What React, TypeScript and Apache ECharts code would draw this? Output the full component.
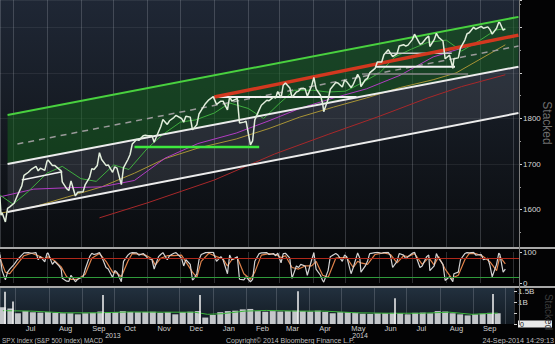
import React, { useEffect, useRef } from 'react';
import * as echarts from 'echarts';

const FONT = '"Liberation Sans", Arial, sans-serif';

// ---------- price (SPX close) ----------
const priceData: [string, number][] = [
  ['2013-06-19', 1628], ['2013-06-20', 1588], ['2013-06-21', 1593], ['2013-06-24', 1573], ['2013-06-26', 1603], ['2013-06-28', 1606],
  ['2013-07-02', 1614], ['2013-07-05', 1631], ['2013-07-09', 1652], ['2013-07-11', 1675], ['2013-07-15', 1682], ['2013-07-18', 1689],
  ['2013-07-22', 1695], ['2013-07-24', 1685], ['2013-07-26', 1691], ['2013-07-30', 1686], ['2013-08-01', 1706], ['2013-08-02', 1709],
  ['2013-08-06', 1697], ['2013-08-08', 1697], ['2013-08-12', 1689], ['2013-08-14', 1685], ['2013-08-15', 1661], ['2013-08-19', 1646],
  ['2013-08-21', 1642], ['2013-08-23', 1663], ['2013-08-27', 1630], ['2013-08-29', 1638], ['2013-09-03', 1639], ['2013-09-05', 1655],
  ['2013-09-09', 1671], ['2013-09-11', 1690], ['2013-09-13', 1688], ['2013-09-16', 1697], ['2013-09-18', 1725], ['2013-09-20', 1710],
  ['2013-09-24', 1697], ['2013-09-26', 1698], ['2013-09-30', 1682], ['2013-10-02', 1694], ['2013-10-04', 1691], ['2013-10-08', 1655],
  ['2013-10-10', 1692], ['2013-10-14', 1710], ['2013-10-16', 1721], ['2013-10-18', 1744], ['2013-10-22', 1754], ['2013-10-24', 1752],
  ['2013-10-28', 1762], ['2013-10-30', 1763], ['2013-11-01', 1762], ['2013-11-05', 1762], ['2013-11-07', 1748], ['2013-11-11', 1771],
  ['2013-11-13', 1782], ['2013-11-15', 1798], ['2013-11-19', 1787], ['2013-11-21', 1795], ['2013-11-25', 1802], ['2013-11-27', 1807],
  ['2013-12-02', 1800], ['2013-12-04', 1792], ['2013-12-06', 1805], ['2013-12-10', 1803], ['2013-12-12', 1775], ['2013-12-16', 1786],
  ['2013-12-18', 1810], ['2013-12-20', 1818], ['2013-12-24', 1833], ['2013-12-27', 1841], ['2013-12-31', 1848],
  ['2014-01-03', 1831], ['2014-01-07', 1838], ['2014-01-09', 1838], ['2014-01-13', 1819], ['2014-01-15', 1848], ['2014-01-17', 1838],
  ['2014-01-22', 1844], ['2014-01-24', 1790], ['2014-01-28', 1792], ['2014-01-30', 1794], ['2014-02-03', 1742], ['2014-02-05', 1751],
  ['2014-02-07', 1797], ['2014-02-11', 1819], ['2014-02-13', 1829], ['2014-02-18', 1840], ['2014-02-20', 1839], ['2014-02-24', 1847],
  ['2014-02-26', 1845], ['2014-02-28', 1859], ['2014-03-03', 1845], ['2014-03-05', 1873], ['2014-03-07', 1878], ['2014-03-11', 1867],
  ['2014-03-13', 1846], ['2014-03-17', 1858], ['2014-03-19', 1860], ['2014-03-21', 1866], ['2014-03-25', 1865], ['2014-03-27', 1849],
  ['2014-03-31', 1872], ['2014-04-02', 1890], ['2014-04-04', 1865], ['2014-04-08', 1851], ['2014-04-10', 1833], ['2014-04-11', 1815],
  ['2014-04-15', 1842], ['2014-04-17', 1864], ['2014-04-22', 1879], ['2014-04-24', 1878], ['2014-04-28', 1869], ['2014-04-30', 1884],
  ['2014-05-02', 1881], ['2014-05-06', 1868], ['2014-05-08', 1875], ['2014-05-12', 1897], ['2014-05-14', 1888], ['2014-05-15', 1870],
  ['2014-05-19', 1885], ['2014-05-21', 1888], ['2014-05-23', 1900], ['2014-05-28', 1910], ['2014-05-30', 1924], ['2014-06-03', 1924],
  ['2014-06-05', 1940], ['2014-06-09', 1951], ['2014-06-11', 1943], ['2014-06-13', 1936], ['2014-06-17', 1942], ['2014-06-19', 1959],
  ['2014-06-23', 1962], ['2014-06-25', 1959], ['2014-06-27', 1961], ['2014-07-01', 1973], ['2014-07-03', 1985], ['2014-07-08', 1963],
  ['2014-07-10', 1965], ['2014-07-14', 1977], ['2014-07-16', 1981], ['2014-07-17', 1958], ['2014-07-21', 1973], ['2014-07-23', 1987],
  ['2014-07-25', 1978], ['2014-07-29', 1970], ['2014-07-31', 1931], ['2014-08-04', 1939], ['2014-08-06', 1920], ['2014-08-07', 1910],
  ['2014-08-08', 1931], ['2014-08-12', 1933], ['2014-08-14', 1955], ['2014-08-18', 1972], ['2014-08-20', 1986], ['2014-08-22', 1988],
  ['2014-08-26', 2000], ['2014-08-28', 1996], ['2014-09-02', 2002], ['2014-09-04', 1998], ['2014-09-08', 2001], ['2014-09-10', 1995],
  ['2014-09-12', 1985], ['2014-09-16', 1998], ['2014-09-18', 2011], ['2014-09-19', 2010], ['2014-09-22', 1994], ['2014-09-24', 1996.72],
];

// ---------- moving averages ----------
const ma20: [string, number][] = [
  ['2013-06-19', 1632], ['2013-07-01', 1612], ['2013-07-15', 1640], ['2013-08-01', 1680], ['2013-08-15', 1695], ['2013-09-01', 1668],
  ['2013-09-15', 1662], ['2013-10-01', 1698], ['2013-10-15', 1688], ['2013-11-01', 1735], ['2013-11-15', 1765], ['2013-12-01', 1792],
  ['2013-12-15', 1797], ['2014-01-01', 1812], ['2014-01-15', 1834], ['2014-02-01', 1822], ['2014-02-15', 1800], ['2014-03-01', 1832],
  ['2014-03-15', 1862], ['2014-04-01', 1862], ['2014-04-15', 1858], ['2014-05-01', 1860], ['2014-05-15', 1877], ['2014-06-01', 1900],
  ['2014-06-15', 1935], ['2014-06-30', 1952], ['2014-07-15', 1967], ['2014-08-01', 1972], ['2014-08-15', 1948], ['2014-09-01', 1972],
  ['2014-09-15', 1994], ['2014-09-24', 1997],
];
const ma50: [string, number][] = [
  ['2013-06-19', 1628], ['2013-07-20', 1645], ['2013-08-20', 1648], ['2013-09-20', 1650], ['2013-10-20', 1664], ['2013-11-17', 1713],
  ['2013-12-17', 1745], ['2014-01-21', 1768], ['2014-02-20', 1795], ['2014-03-20', 1822], ['2014-04-20', 1845], ['2014-05-20', 1865],
  ['2014-06-20', 1895], ['2014-07-20', 1935], ['2014-08-20', 1958], ['2014-09-24', 1976.55],
];
const ma100: [string, number][] = [
  ['2013-06-19', 1592], ['2013-07-20', 1606], ['2013-08-20', 1628], ['2013-09-20', 1650], ['2013-10-20', 1680], ['2013-11-17', 1712],
  ['2013-12-17', 1735], ['2014-01-21', 1755], ['2014-02-20', 1778], ['2014-03-20', 1803], ['2014-04-20', 1825], ['2014-05-20', 1845],
  ['2014-06-20', 1868], ['2014-07-20', 1885], ['2014-08-10', 1900], ['2014-09-24', 1961.67],
];
const ma200: [string, number][] = [
  ['2013-09-18', 1582], ['2013-11-01', 1615], ['2014-01-01', 1665], ['2014-02-25', 1722], ['2014-04-15', 1765], ['2014-06-01', 1805],
  ['2014-07-15', 1845], ['2014-08-15', 1870], ['2014-09-24', 1895.96],
];

// ---------- channel & trend lines ----------
const channelDates = ['2013-06-26', '2014-10-06'];
const channelTop = [1807.7, 2023];
const channelMid = [1700.2, 1913.6];
const channelLow = [1595, 1812];
const channelCenterDates = ['2013-07-05', '2014-10-06'];
const channelCenter = [1744, 1959];
const trendDates = ['2014-01-01', '2014-10-06'];
const trendValues = [1847, 1983];
const levelDates: [string, string][] = [
  ['2014-01-01', '2014-05-11'], ['2014-05-28', '2014-08-09'], ['2014-06-07', '2014-08-06'],
  ['2014-05-16', '2014-08-21'], ['2013-10-20', '2014-02-11'], ['2013-07-09', '2013-08-15'],
];
const levelValues: [number, number][] = [
  [1847, 1847], [1913.6, 1913.6], [1943, 1943], [1897.6, 1897.6], [1737.5, 1737.5], [1665, 1683],
];

// ---------- stochastic oscillator ----------
const stochK: [string, number][] = [
  ['2013-06-19', 92], ['2013-06-21', 40], ['2013-06-24', 10], ['2013-06-26', 35], ['2013-06-28', 45], ['2013-07-02', 60],
  ['2013-07-05', 75], ['2013-07-09', 90], ['2013-07-11', 97], ['2013-07-15', 98], ['2013-07-18', 96], ['2013-07-22', 98],
  ['2013-07-24', 75], ['2013-07-26', 85], ['2013-07-30', 68], ['2013-08-01', 95], ['2013-08-02', 97], ['2013-08-06', 60],
  ['2013-08-08', 70], ['2013-08-12', 55], ['2013-08-14', 45], ['2013-08-15', 15], ['2013-08-19', 6], ['2013-08-21', 5],
  ['2013-08-23', 25], ['2013-08-27', 4], ['2013-08-29', 12], ['2013-09-03', 20], ['2013-09-05', 45], ['2013-09-09', 85],
  ['2013-09-11', 96], ['2013-09-13', 92], ['2013-09-16', 95], ['2013-09-18', 98], ['2013-09-20', 85], ['2013-09-24', 50],
  ['2013-09-26', 45], ['2013-09-30', 18], ['2013-10-02', 40], ['2013-10-04', 35], ['2013-10-08', 4], ['2013-10-10', 70],
  ['2013-10-14', 90], ['2013-10-16', 96], ['2013-10-18', 98], ['2013-10-22', 97], ['2013-10-24', 90], ['2013-10-28', 95],
  ['2013-10-30', 88], ['2013-11-01', 80], ['2013-11-05', 75], ['2013-11-07', 45], ['2013-11-11', 85], ['2013-11-13', 92],
  ['2013-11-15', 98], ['2013-11-19', 75], ['2013-11-21', 88], ['2013-11-25', 96], ['2013-11-27', 98], ['2013-12-02', 80],
  ['2013-12-04', 55], ['2013-12-06', 75], ['2013-12-10', 60], ['2013-12-12', 10], ['2013-12-13', 12], ['2013-12-16', 30],
  ['2013-12-18', 75], ['2013-12-20', 92], ['2013-12-24', 98], ['2013-12-27', 99], ['2013-12-31', 99], ['2014-01-03', 70],
  ['2014-01-07', 85], ['2014-01-09', 75], ['2014-01-13', 30], ['2014-01-15', 90], ['2014-01-17', 75], ['2014-01-22', 85],
  ['2014-01-24', 12], ['2014-01-28', 10], ['2014-01-30', 20], ['2014-02-03', 4], ['2014-02-05', 12], ['2014-02-07', 70],
  ['2014-02-11', 95], ['2014-02-13', 97], ['2014-02-18', 98], ['2014-02-20', 92], ['2014-02-24', 95], ['2014-02-26', 88],
  ['2014-02-28', 96], ['2014-03-03', 65], ['2014-03-05', 95], ['2014-03-07', 96], ['2014-03-11', 80], ['2014-03-13', 15],
  ['2014-03-17', 55], ['2014-03-19', 50], ['2014-03-21', 60], ['2014-03-25', 55], ['2014-03-27', 25], ['2014-03-31', 75],
  ['2014-04-02', 98], ['2014-04-04', 45], ['2014-04-08', 25], ['2014-04-10', 8], ['2014-04-11', 3], ['2014-04-15', 40],
  ['2014-04-17', 85], ['2014-04-22', 95], ['2014-04-24', 90], ['2014-04-28', 70], ['2014-04-30', 90], ['2014-05-02', 85],
  ['2014-05-06', 30], ['2014-05-08', 50], ['2014-05-12', 97], ['2014-05-14', 80], ['2014-05-15', 35], ['2014-05-19', 55],
  ['2014-05-21', 70], ['2014-05-23', 95], ['2014-05-28', 98], ['2014-05-30', 99], ['2014-06-03', 96], ['2014-06-05', 98],
  ['2014-06-09', 99], ['2014-06-11', 88], ['2014-06-13', 50], ['2014-06-17', 70], ['2014-06-19', 95], ['2014-06-23', 90],
  ['2014-06-25', 78], ['2014-06-27', 85], ['2014-07-01', 96], ['2014-07-03', 99], ['2014-07-08', 50], ['2014-07-10', 55],
  ['2014-07-14', 85], ['2014-07-16', 90], ['2014-07-17', 40], ['2014-07-21', 55], ['2014-07-23', 95], ['2014-07-25', 80],
  ['2014-07-29', 60], ['2014-07-31', 8], ['2014-08-04', 20], ['2014-08-06', 10], ['2014-08-07', 4], ['2014-08-08', 30],
  ['2014-08-12', 35], ['2014-08-14', 75], ['2014-08-18', 95], ['2014-08-20', 98], ['2014-08-22', 97], ['2014-08-26', 99],
  ['2014-08-28', 90], ['2014-09-02', 92], ['2014-09-04', 75], ['2014-09-08', 80], ['2014-09-10', 55], ['2014-09-12', 20],
  ['2014-09-16', 60], ['2014-09-18', 96], ['2014-09-19', 92], ['2014-09-22', 35], ['2014-09-24', 44.7228],
];
const stochD: [string, number][] = [
  ['2013-06-19', 80], ['2013-06-24', 35], ['2013-06-28', 30], ['2013-07-05', 62], ['2013-07-11', 88], ['2013-07-18', 96],
  ['2013-07-24', 88], ['2013-07-30', 78], ['2013-08-02', 85], ['2013-08-08', 72], ['2013-08-14', 52], ['2013-08-19', 20],
  ['2013-08-23', 12], ['2013-08-29', 12], ['2013-09-05', 28], ['2013-09-11', 80], ['2013-09-18', 95], ['2013-09-24', 70],
  ['2013-09-30', 35], ['2013-10-04', 32], ['2013-10-08', 20], ['2013-10-14', 70], ['2013-10-18', 95], ['2013-10-24', 93],
  ['2013-10-30', 90], ['2013-11-05', 78], ['2013-11-08', 58], ['2013-11-13', 80], ['2013-11-19', 88], ['2013-11-25', 88],
  ['2013-12-02', 90], ['2013-12-06', 68], ['2013-12-12', 35], ['2013-12-16', 18], ['2013-12-20', 70], ['2013-12-27', 96],
  ['2014-01-03', 85], ['2014-01-09', 78], ['2014-01-13', 55], ['2014-01-17', 75], ['2014-01-22', 82], ['2014-01-28', 30],
  ['2014-02-03', 12], ['2014-02-07', 35], ['2014-02-13', 90], ['2014-02-20', 95], ['2014-02-26', 92], ['2014-03-03', 82],
  ['2014-03-07', 88], ['2014-03-13', 50], ['2014-03-19', 45], ['2014-03-25', 55], ['2014-03-31', 55], ['2014-04-04', 70],
  ['2014-04-10', 25], ['2014-04-15', 18], ['2014-04-22', 80], ['2014-04-28', 82], ['2014-05-02', 82], ['2014-05-08', 50],
  ['2014-05-12', 70], ['2014-05-15', 65], ['2014-05-21', 60], ['2014-05-28', 92], ['2014-06-05', 97], ['2014-06-11', 92],
  ['2014-06-17', 65], ['2014-06-23', 88], ['2014-06-27', 85], ['2014-07-03', 95], ['2014-07-10', 60], ['2014-07-16', 82],
  ['2014-07-21', 58], ['2014-07-25', 85], ['2014-07-31', 45], ['2014-08-06', 15], ['2014-08-12', 25], ['2014-08-18', 75],
  ['2014-08-22', 95], ['2014-08-28', 95], ['2014-09-04', 85], ['2014-09-10', 68], ['2014-09-16', 40], ['2014-09-19', 85],
  ['2014-09-24', 62],
];
const stochUpper = 80;
const stochLower = 20;

// ---------- volume (billions of shares) ----------
const volumeWeekly: [string, number][] = [
  ['2013-06-19', 0.78], ['2013-06-26', 0.72], ['2013-07-03', 0.5], ['2013-07-10', 0.6], ['2013-07-17', 0.55], ['2013-07-24', 0.53],
  ['2013-07-31', 0.56], ['2013-08-07', 0.52], ['2013-08-14', 0.5], ['2013-08-21', 0.5], ['2013-08-28', 0.45], ['2013-09-04', 0.5],
  ['2013-09-11', 0.52], ['2013-09-18', 0.58], ['2013-09-25', 0.53], ['2013-10-02', 0.55], ['2013-10-09', 0.6], ['2013-10-16', 0.56],
  ['2013-10-23', 0.55], ['2013-10-30', 0.56], ['2013-11-06', 0.57], ['2013-11-13', 0.52], ['2013-11-20', 0.55], ['2013-11-27', 0.45],
  ['2013-12-04', 0.55], ['2013-12-11', 0.57], ['2013-12-18', 0.6], ['2013-12-25', 0.3], ['2014-01-01', 0.42], ['2014-01-08', 0.55],
  ['2014-01-15', 0.6], ['2014-01-22', 0.62], ['2014-01-29', 0.68], ['2014-02-05', 0.7], ['2014-02-12', 0.6], ['2014-02-19', 0.57],
  ['2014-02-26', 0.6], ['2014-03-05', 0.58], ['2014-03-12', 0.6], ['2014-03-19', 0.62], ['2014-03-26', 0.6], ['2014-04-02', 0.58],
  ['2014-04-09', 0.62], ['2014-04-16', 0.56], ['2014-04-23', 0.5], ['2014-04-30', 0.55], ['2014-05-07', 0.55], ['2014-05-14', 0.52],
  ['2014-05-21', 0.48], ['2014-05-28', 0.47], ['2014-06-04', 0.5], ['2014-06-11', 0.5], ['2014-06-18', 0.52], ['2014-06-25', 0.5],
  ['2014-07-02', 0.45], ['2014-07-09', 0.52], ['2014-07-16', 0.53], ['2014-07-23', 0.5], ['2014-07-30', 0.6], ['2014-08-06', 0.58],
  ['2014-08-13', 0.5], ['2014-08-20', 0.45], ['2014-08-27', 0.4], ['2014-09-03', 0.45], ['2014-09-10', 0.48], ['2014-09-17', 0.52],
  ['2014-09-24', 0.5],
];
const volumeSpikes: [string, number][] = [
  ['2013-06-21', 1.5], ['2013-06-28', 1.05], ['2013-09-20', 1.35], ['2013-12-20', 1.35], ['2014-03-21', 1.52],
  ['2014-06-20', 1.2], ['2014-09-19', 1.4],
];
const volumeMA: [string, number][] = [
  ['2013-06-19', 0.62], ['2013-07-15', 0.6], ['2013-08-15', 0.52], ['2013-09-15', 0.52], ['2013-10-15', 0.56], ['2013-11-15', 0.55],
  ['2013-12-15', 0.55], ['2013-12-27', 0.45], ['2014-01-10', 0.48], ['2014-01-31', 0.6], ['2014-02-20', 0.63], ['2014-03-20', 0.6],
  ['2014-04-15', 0.6], ['2014-05-15', 0.52], ['2014-06-15', 0.5], ['2014-07-15', 0.5], ['2014-08-10', 0.55], ['2014-08-31', 0.45],
  ['2014-09-24', 0.509],
];

const monthNames = ['Jan', 'Feb', 'Mar', 'Apr', 'May', 'Jun', 'Jul', 'Aug', 'Sep', 'Oct', 'Nov', 'Dec'];

const ts = (s: string) => {
  const [y, m, d] = s.split('-').map(Number);
  return new Date(y, m - 1, d).getTime();
};
const pairs = (arr: [string, number][]) => arr.map(([d, v]) => [ts(d), v]);
const last = (arr: [string, number][]) => arr[arr.length - 1][1];

const tag = (value: number, text: string, bg: string, fg: string) => ({
  yAxis: value,
  lineStyle: { opacity: 0 },
  label: {
    show: true, position: 'end', distance: 2, formatter: text, backgroundColor: bg, color: fg,
    fontSize: 7, fontFamily: FONT, padding: [0, 4, 0, 2], lineHeight: 6.4,
  },
});

export default function App() {
  const ref = useRef<HTMLDivElement>(null);
  useEffect(() => {
    if (!ref.current) return;
    const chart = echarts.init(ref.current, null, { renderer: 'svg' });
    const xMin = new Date(2013, 5, 19, 2).getTime();
    const xMax = new Date(2014, 9, 6, 12).getTime();
    const DAY = 86400000;
    const split = { show: true, lineStyle: { color: 'rgba(200,205,215,0.22)', width: 1 } };
    const xBase = (i: number) => ({
      type: 'time', gridIndex: i, min: xMin, max: xMax, minInterval: 28 * DAY, maxInterval: 31 * DAY,
      axisLine: { show: false }, axisTick: { show: false }, splitLine: split,
      axisLabel: { show: false },
    });
    const noLine = (data: any[], color: string, width: number, extra: any = {}) => ({
      type: 'line', xAxisIndex: 0, yAxisIndex: 0, data, symbol: 'none', silent: true,
      lineStyle: { color, width }, ...extra,
    });

    const series: any[] = [];
    // channel fills (stacked)
    series.push(noLine(channelDates.map((d, i) => [ts(d), channelLow[i]]), '#000', 0, { stack: 'ch', lineStyle: { opacity: 0 } }));
    series.push(noLine(channelDates.map((d, i) => [ts(d), channelMid[i] - channelLow[i]]), '#000', 0, {
      stack: 'ch', lineStyle: { opacity: 0 }, areaStyle: { color: 'rgba(150,155,170,0.16)', opacity: 1 },
    }));
    series.push(noLine(channelDates.map((d, i) => [ts(d), channelTop[i] - channelMid[i]]), '#000', 0, {
      stack: 'ch', lineStyle: { opacity: 0 }, areaStyle: { color: 'rgba(22,100,30,0.5)', opacity: 1 },
    }));
    // moving averages
    series.push(noLine(pairs(ma200), '#a8282a', 1, { markLine: { silent: true, symbol: ['none', 'none'], data: [tag(last(ma200), last(ma200).toFixed(2), '#e01414', '#ffd8d8')] } }));
    series.push(noLine(pairs(ma100), '#a89436', 1, { markLine: { silent: true, symbol: ['none', 'none'], data: [tag(last(ma100), last(ma100).toFixed(2), '#ece41e', '#111')] } }));
    series.push(noLine(pairs(ma50), '#b23cc4', 1, { markLine: { silent: true, symbol: ['none', 'none'], data: [tag(last(ma50), last(ma50).toFixed(2), '#d82ad8', '#fbe0fb')] } }));
    series.push(noLine(pairs(ma20), '#3fae3f', 1));
    // channel lines
    series.push(noLine(channelDates.map((d, i) => [ts(d), channelTop[i]]), '#49d13f', 2));
    series.push(noLine(channelDates.map((d, i) => [ts(d), channelMid[i]]), '#ececec', 2));
    series.push(noLine(channelDates.map((d, i) => [ts(d), channelLow[i]]), '#ececec', 2));
    series.push(noLine(channelCenterDates.map((d, i) => [ts(d), channelCenter[i]]), '#9a9a9a', 1.5, { lineStyle: { color: '#9a9a9a', width: 1.5, type: [6, 5] } }));
    // levels
    const levelColors = ['#f2f2f2', '#f2f2f2', '#c8c8c8', '#8a8a8a', '#3ee83e', '#f2f2f2'];
    const levelWidths = [2, 2, 1.5, 1.5, 2.5, 1.5];
    levelDates.forEach((pair, i) => {
      series.push(noLine(pair.map((d, j) => [ts(d), levelValues[i][j]]), levelColors[i], levelWidths[i]));
    });
    series.push(noLine(trendDates.map((d, i) => [ts(d), trendValues[i]]), '#d2381f', 3.5));
    // price
    series.push(noLine(pairs(priceData), '#e2eedc', 1.5, {
      markLine: { silent: true, symbol: ['none', 'none'], data: [tag(last(priceData), last(priceData).toFixed(2), '#f2f2f2', '#111')] },
    }));

    // oscillator
    series.push({
      type: 'line', xAxisIndex: 1, yAxisIndex: 1, data: pairs(stochD), symbol: 'none', silent: true,
      lineStyle: { color: '#e0824a', width: 1.2 },
      markLine: {
        silent: true, symbol: ['none', 'none'],
        data: [
          { yAxis: stochUpper, lineStyle: { color: '#b0281a', width: 1, type: 'solid' }, label: { show: false } },
          { yAxis: stochLower, lineStyle: { color: '#2f9a3a', width: 1, type: 'solid' }, label: { show: false } },
          tag(last(stochD), last(stochD).toFixed(4), '#e8863a', '#2a1000'),
        ],
      },
    });
    series.push({
      type: 'line', xAxisIndex: 1, yAxisIndex: 1, data: pairs(stochK), symbol: 'none', silent: true,
      lineStyle: { color: '#d4d4d4', width: 1.2 },
      markLine: { silent: true, symbol: ['none', 'none'], data: [tag(last(stochK), last(stochK).toFixed(4), '#f2f2f2', '#111')] },
    });

    // volume
    series.push({
      type: 'bar', xAxisIndex: 2, yAxisIndex: 2, data: pairs(volumeWeekly), barWidth: 6, silent: true,
      itemStyle: { color: '#c4c7ca' },
      markLine: {
        silent: true, symbol: ['none', 'none'], label: { show: false },
        lineStyle: { color: '#f4f4f4', width: 1.5, type: 'solid' },
        data: volumeSpikes.map(([d, v]) => [{ coord: [ts(d), 0] }, { coord: [ts(d), v] }]),
      },
    });
    series.push({
      type: 'line', xAxisIndex: 2, yAxisIndex: 2, data: pairs(volumeMA), symbol: 'none', silent: true,
      lineStyle: { color: '#3cb83c', width: 1 },
      markLine: { silent: true, symbol: ['none', 'none'], data: [tag(last(volumeMA), last(volumeMA).toFixed(4) + 'B', '#35d435', '#eaffea')] },
    });

    const axisLabelBase = { color: '#d6d6d6', fontSize: 8, fontFamily: FONT, margin: 4 };
    const tickBase = { show: true, length: 3, lineStyle: { color: '#cfcfcf' } };

    const option: any = {
      animation: false,
      backgroundColor: '#030304',
      grid: [
        {
          left: 0, top: 0, width: 519, height: 247, show: true, borderWidth: 0,
          backgroundColor: new echarts.graphic.LinearGradient(0, 0, 0, 1, [
            { offset: 0, color: '#1f2735' }, { offset: 0.5, color: '#151a22' }, { offset: 1, color: '#0a0c0f' },
          ]),
        },
        { left: 0, top: 252, width: 519, height: 31, show: false },
        {
          left: 0, top: 288, width: 519, height: 36, show: true, borderWidth: 0,
          backgroundColor: new echarts.graphic.LinearGradient(0, 0, 0, 1, [
            { offset: 0, color: '#22303e' }, { offset: 1, color: '#121a22' },
          ]),
        },
      ],
      xAxis: [
        xBase(0),
        xBase(1),
        {
          ...xBase(2),
          axisLabel: {
            show: true, color: '#cfcfcf', fontSize: 7.5, fontFamily: FONT, align: 'left', padding: [0, 0, 0, 10],
            margin: 1, lineHeight: 7.5, hideOverlap: false,
            formatter: (val: number) => {
              const d = new Date(val);
              const m = d.getMonth();
              const y = d.getFullYear();
              if (d.getDate() !== 1) return '';
              if (y === 2014 && m === 9) return '';
              let s = monthNames[m];
              if (y === 2013 && m === 8) s += '\n{ya|2013}';
              if (y === 2014 && m === 4) s += '\n{yb|2014}';
              return s;
            },
            rich: {
              ya: { fontSize: 7, fontFamily: FONT, color: '#cfcfcf', lineHeight: 6.5, padding: [0, 0, 0, 13] },
              yb: { fontSize: 7, fontFamily: FONT, color: '#cfcfcf', lineHeight: 6.5, padding: [0, 0, 0, 1] },
            },
          },
        },
      ],
      yAxis: [
        {
          type: 'value', gridIndex: 0, position: 'right', min: 1518, max: 2060,
          axisLine: { show: false }, axisTick: tickBase,
          minorTick: { show: true, splitNumber: 2, length: 2, lineStyle: { color: '#9a9a9a' } },
          splitLine: { show: true, lineStyle: { color: 'rgba(255,255,255,0.07)' } },
          axisLabel: {
            ...axisLabelBase, showMinLabel: false, showMaxLabel: false,
            formatter: (v: number) => ([1600, 1700, 1800].includes(v) ? String(v) : ''),
          },
        },
        {
          type: 'value', gridIndex: 1, position: 'right', min: 0, max: 100, interval: 100,
          axisLine: { show: false }, axisTick: tickBase, splitLine: { show: false },
          axisLabel: { ...axisLabelBase },
        },
        {
          type: 'value', gridIndex: 2, position: 'right', min: 0, max: 1.674, interval: 0.5,
          axisLine: { show: false }, axisTick: tickBase, splitLine: { show: false },
          axisLabel: {
            ...axisLabelBase, showMaxLabel: false,
            formatter: (v: number) => (v === 0 ? '{w|0}' : v === 1 ? '1B' : v === 1.5 ? '1.5B' : ''),
            rich: { w: { backgroundColor: '#e9e9e9', color: '#111', width: 30, padding: [0, 2, 0, 2], lineHeight: 6.4, fontSize: 7, fontFamily: FONT } },
          },
        },
      ],
      series,
      graphic: [
        { type: 'line', z: 100, silent: true, shape: { x1: 0, y1: 248, x2: 555, y2: 248 }, style: { stroke: '#a8a8a8', lineWidth: 2 } },
        { type: 'line', z: 100, silent: true, shape: { x1: 0, y1: 287, x2: 555, y2: 287 }, style: { stroke: '#a8a8a8', lineWidth: 2 } },
        { type: 'line', z: 100, silent: true, shape: { x1: 519.5, y1: 0, x2: 519.5, y2: 325 }, style: { stroke: '#7c7c7c', lineWidth: 1 } },
        {
          type: 'text', z: 100, silent: true, x: 547, y: 123, rotation: -Math.PI / 2,
          style: { text: 'Stacked', fill: '#6e6e6e', font: `12px ${FONT}`, textAlign: 'center', textVerticalAlign: 'middle', align: 'center', verticalAlign: 'middle' },
        },
        {
          type: 'text', z: 100, silent: true, x: 548, y: 312, rotation: -Math.PI / 2,
          style: { text: 'Stacked', fill: '#3c3c3c', font: `10px ${FONT}`, textAlign: 'center', textVerticalAlign: 'middle', align: 'center', verticalAlign: 'middle' },
        },
        {
          type: 'text', z: 100, silent: true, x: 2, y: 340,
          style: { text: 'SPX Index (S&P 500 Index) MACD', fill: '#bdbdbd', font: `6.5px ${FONT}`, textVerticalAlign: 'middle', verticalAlign: 'middle' },
        },
        {
          type: 'text', z: 100, silent: true, x: 226, y: 340,
          style: { text: 'Copyright\u00a9 2014 Bloomberg Finance L.P.', fill: '#bdbdbd', font: `7px ${FONT}`, textVerticalAlign: 'middle', verticalAlign: 'middle' },
        },
        {
          type: 'text', z: 100, silent: true, x: 554, y: 340,
          style: { text: '24-Sep-2014 14:29:13', fill: '#bdbdbd', font: `7.2px ${FONT}`, textAlign: 'right', align: 'right', textVerticalAlign: 'middle', verticalAlign: 'middle' },
        },
      ],
    };
    chart.setOption(option);
    return () => chart.dispose();
  }, []);
  return <div ref={ref} style={{ position: 'fixed', left: 0, top: 0, width: 555, height: 344, background: '#000' }} />;
}
